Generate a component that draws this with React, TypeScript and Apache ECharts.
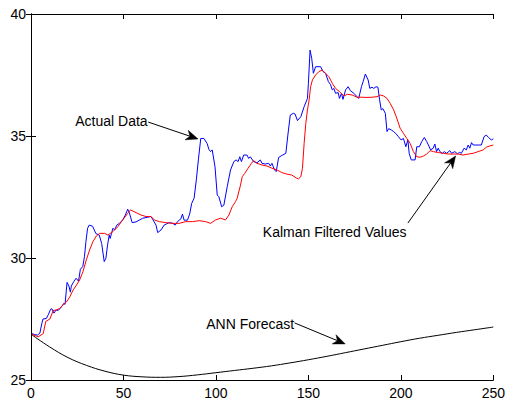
import React, { useEffect, useRef } from "react";
import * as echarts from "echarts";

// Actual data (blue)
const actualX = [0.5,2,3.5,4.8,5.8,6.5,8.3,9.5,10.6,11.3,12.4,13.6,14.7,16.3,17.7,18.4,19.5,20.5,21.3,21.8,23.1,24.4,25.7,26.7,28,28.9,29.7,30.6,31.5,33.3,35.1,36.9,38.2,39.6,40.5,41.4,42.3,42.8,43.5,44.3,45.2,46.4,47.8,49.6,51,52.3,53.2,54.7,56.8,60.4,64.9,66,67.6,68.5,70.3,72,74.7,76.7,78,79.3,81,81.9,82.8,84.6,85.8,86.9,88.2,89.4,90.5,91.8,93.5,95.3,96.2,97.1,98,99.5,100.7,101.6,103.1,104.3,106.1,107.9,109.7,110.9,112,112.9,113.8,115,116.8,117.7,118.6,120.4,122.2,124,124.9,126.7,128.5,129.4,130.3,131.7,132.6,133.9,135.6,137.8,138.9,140.2,141.9,142.8,144.1,145.9,147.7,149.5,150,150.9,151.8,152.7,153.9,156.6,157.9,159.3,160.8,162,162.9,163.8,164.7,166.1,166.8,167.9,168.7,170.1,171.5,172.7,174.6,176.3,177.2,178.7,179.6,180.8,182.3,183.2,184.4,185.3,186.6,187.6,188.5,189.4,190.3,191.6,192.5,193.4,194.8,196.1,197.3,198.7,200.1,201.4,202.7,203.8,204.5,205.6,207.7,208.6,210,211.3,212.7,214,214.9,216.1,217.5,218.4,219.3,220.2,221.1,222.4,223.5,224.7,226.5,227.4,229.2,230.6,231.8,232.7,234.2,235.4,236.4,237.3,238.2,239.1,240.4,241.8,243.5,245,246.2,247.4,248.9,250];
const actualY = [26.9,26.86,26.84,26.92,27.3,27.5,27.52,27.7,27.9,27.92,27.74,27.87,27.85,27.98,28.14,28.1,29.0,28.85,28.6,28.85,29.03,29.17,29.05,29.54,29.65,30.05,30.67,31.22,31.35,31.3,31.0,30.94,30.6,29.85,29.99,30.53,30.94,30.8,31.0,31.22,31.15,31.35,31.42,31.56,31.76,32.0,31.85,31.45,31.48,31.63,31.7,31.56,31.35,31.04,31.15,31.35,31.45,31.42,31.35,31.5,31.6,31.8,31.55,31.55,31.8,32.24,32.45,33.2,34.02,34.9,34.9,34.68,34.45,34.36,34.43,33.74,32.58,32.51,32.1,32.17,32.92,33.61,33.95,34.02,33.95,34.15,33.95,34.22,34.22,34.08,34.15,33.95,33.9,34.02,33.88,33.85,33.88,33.77,33.88,33.61,33.54,34.12,34.2,34.29,35.04,35.86,35.93,35.9,35.63,35.79,36.2,36.54,37.16,38.52,38.18,37.57,37.84,37.84,37.64,37.57,37.23,37.1,36.89,36.95,36.75,36.78,36.54,36.75,36.5,36.89,37.02,36.86,36.75,36.61,36.54,37.02,37.23,37.54,37.3,36.95,37.0,36.95,37.02,37.0,36.48,36.07,36.12,35.93,35.18,35.3,35.25,35.18,35.1,34.97,34.84,34.9,34.56,34.84,34.29,34.02,34.02,34.56,34.56,34.77,34.94,34.77,34.63,34.43,34.5,34.67,34.36,34.5,34.36,34.29,34.36,34.29,34.4,34.29,34.36,34.27,34.33,34.29,34.5,34.43,34.63,34.5,34.73,34.63,34.63,34.63,34.63,34.97,35.04,34.94,34.84,34.88];

// Kalman filtered values (red)
const kalmanX = [0.5,3.9,6.6,8,10.2,12,13.8,15.6,17.4,19.2,21,22.8,24.6,26.3,28.1,29.9,31.7,33.5,35.3,37.1,39.8,41.6,44.3,46.9,49.6,52.3,53.8,56.8,59.5,62.2,64.9,66.7,69.4,72.9,76.5,80.1,83.7,87.3,90.9,94.4,97.1,99.8,102.5,105.2,107,108.8,110.6,111.5,113.3,114.2,115.6,117.4,119.2,120.4,122.2,124.9,127.6,130.3,133,135.6,138.3,141,143.7,144.6,145.9,146.8,147.7,148.6,149.5,150.4,151.2,152.2,153.9,155.7,157.5,159.3,161.1,162.9,164.7,166.8,169.2,171,173.7,176.3,179,181.7,184.4,187.1,188.9,190.7,192.5,194.2,196.1,197.8,199.6,201.4,203.2,205,206.8,208.6,210.4,212.2,214,215.8,217.6,220.3,223,225.6,228.3,231,233.7,236.4,239.1,241.8,244.5,246.2,248,250];
const kalmanY = [26.87,26.77,26.9,27.4,27.5,27.85,27.87,27.94,28.08,28.2,28.41,28.69,28.89,29.1,29.44,29.92,30.33,30.67,30.9,31.01,31.01,30.94,31.08,31.28,31.56,31.83,31.97,31.86,31.76,31.7,31.7,31.56,31.49,31.45,31.42,31.42,31.49,31.49,31.53,31.49,31.42,31.56,31.63,31.56,31.76,32.1,32.31,32.45,32.99,33.33,33.47,33.68,33.88,33.99,33.88,33.81,33.77,33.68,33.61,33.5,33.44,33.4,33.27,33.24,33.33,33.68,34.7,35.52,36.07,36.48,37.02,37.3,37.5,37.64,37.7,37.57,37.43,37.16,36.95,36.82,36.64,36.71,36.68,36.59,36.59,36.58,36.59,36.61,36.68,36.64,36.54,36.34,36.07,35.73,35.32,35.11,34.9,34.7,34.36,34.15,34.13,34.18,34.26,34.4,34.36,34.32,34.29,34.26,34.26,34.26,34.22,34.26,34.29,34.36,34.43,34.54,34.59,34.63];

// ANN forecast (black)
const annX = [0.5,10,20,30,40,50,60,70,80,90,100,110,120,130,140,150,160,170,180,190,200,210,220,230,240,250];
const annY = [26.85,26.36,25.92,25.6,25.36,25.2,25.13,25.11,25.14,25.21,25.3,25.39,25.48,25.58,25.7,25.83,25.97,26.12,26.27,26.42,26.57,26.71,26.83,26.95,27.06,27.17];

// Annotations (data coordinates)
const noteTexts = ["Actual Data", "Kalman Filtered Values", "ANN Forecast"];
const noteTextX = [43.5, 164.2, 118.5];
const noteTextY = [35.61, 31.07, 27.3];
const arrowFromX = [63.4, 203.8, 142.5];
const arrowFromY = [35.57, 31.43, 27.34];
const arrowToX = [90.3, 229.6, 169.9];
const arrowToY = [34.88, 34.18, 26.48];

const xTicks = { min: 0, max: 250, interval: 50 };
const yTicks = { min: 25, max: 40, interval: 5 };

const FONT = "'Liberation Sans', Arial, Helvetica, sans-serif";

const zip = (xs: number[], ys: number[]) => xs.map((x, i) => [x, ys[i]]);

export default function App() {
  const ref = useRef<HTMLDivElement>(null);
  useEffect(() => {
    if (!ref.current) return;
    const chart = echarts.init(ref.current, null, { renderer: "svg" });
    const axisCommon = {
      type: "value" as const,
      splitLine: { show: false },
      axisLine: { show: true, lineStyle: { color: "#000", width: 1 } },
      axisTick: { show: true, inside: true, length: 5, lineStyle: { color: "#000", width: 1 } },
    };
    chart.setOption({
      animation: false,
      backgroundColor: "#fff",
      grid: { left: 31, right: 12, top: 14, bottom: 23, containLabel: false },
      xAxis: [
        {
          ...axisCommon,
          ...xTicks,
          position: "bottom",
          axisLabel: { color: "#000", fontSize: 14, fontFamily: FONT, margin: 6, showMinLabel: true, showMaxLabel: true },
        },
        {
          ...axisCommon,
          ...xTicks,
          position: "top",
          axisLabel: { show: false },
        },
      ],
      yAxis: [
        {
          ...axisCommon,
          ...yTicks,
          position: "left",
          axisLabel: { color: "#000", fontSize: 14, fontFamily: FONT, margin: 5, showMinLabel: true, showMaxLabel: true },
        },
        {
          ...axisCommon,
          ...yTicks,
          position: "right",
          axisLabel: { show: false },
        },
      ],
      series: [
        {
          type: "line",
          data: zip(actualX, actualY),
          showSymbol: false,
          symbol: "none",
          lineStyle: { color: "#0000ff", width: 1 },
          z: 3,
        },
        {
          type: "line",
          data: zip(kalmanX, kalmanY),
          showSymbol: false,
          symbol: "none",
          lineStyle: { color: "#ff0000", width: 1 },
          z: 4,
        },
        {
          type: "line",
          data: zip(annX, annY),
          showSymbol: false,
          symbol: "none",
          smooth: 0.4,
          lineStyle: { color: "#000", width: 1 },
          z: 3,
        },
      ],
    });

    const px = (x: number, y: number) => chart.convertToPixel({ gridIndex: 0 }, [x, y]) as number[];
    const elements: any[] = [];
    noteTexts.forEach((t, i) => {
      const c = px(noteTextX[i], noteTextY[i]);
      elements.push({
        type: "text",
        x: c[0],
        y: c[1],
        z: 10,
        style: { text: t, fill: "#000", font: `14px ${FONT}`, textAlign: "center", textVerticalAlign: "middle" },
      });
      const a = px(arrowFromX[i], arrowFromY[i]);
      const b = px(arrowToX[i], arrowToY[i]);
      const dx = b[0] - a[0];
      const dy = b[1] - a[1];
      const len = Math.sqrt(dx * dx + dy * dy);
      const ux = dx / len;
      const uy = dy / len;
      const nx = -uy;
      const ny = ux;
      const L = 12;
      const W = 5;
      const back = [b[0] - L * ux, b[1] - L * uy];
      const notch = [b[0] - 0.7 * L * ux, b[1] - 0.7 * L * uy];
      elements.push({
        type: "line",
        z: 10,
        shape: { x1: a[0], y1: a[1], x2: notch[0], y2: notch[1] },
        style: { stroke: "#000", lineWidth: 1 },
      });
      elements.push({
        type: "polygon",
        z: 10,
        shape: {
          points: [
            [b[0], b[1]],
            [back[0] + W * nx, back[1] + W * ny],
            notch,
            [back[0] - W * nx, back[1] - W * ny],
          ],
        },
        style: { fill: "#000", stroke: "#000", lineWidth: 0.5 },
      });
    });
    chart.setOption({ graphic: elements });

    return () => chart.dispose();
  }, []);
  return <div ref={ref} style={{ position: "fixed", left: 0, top: 0, width: 508, height: 403, background: "#fff" }} />;
}
